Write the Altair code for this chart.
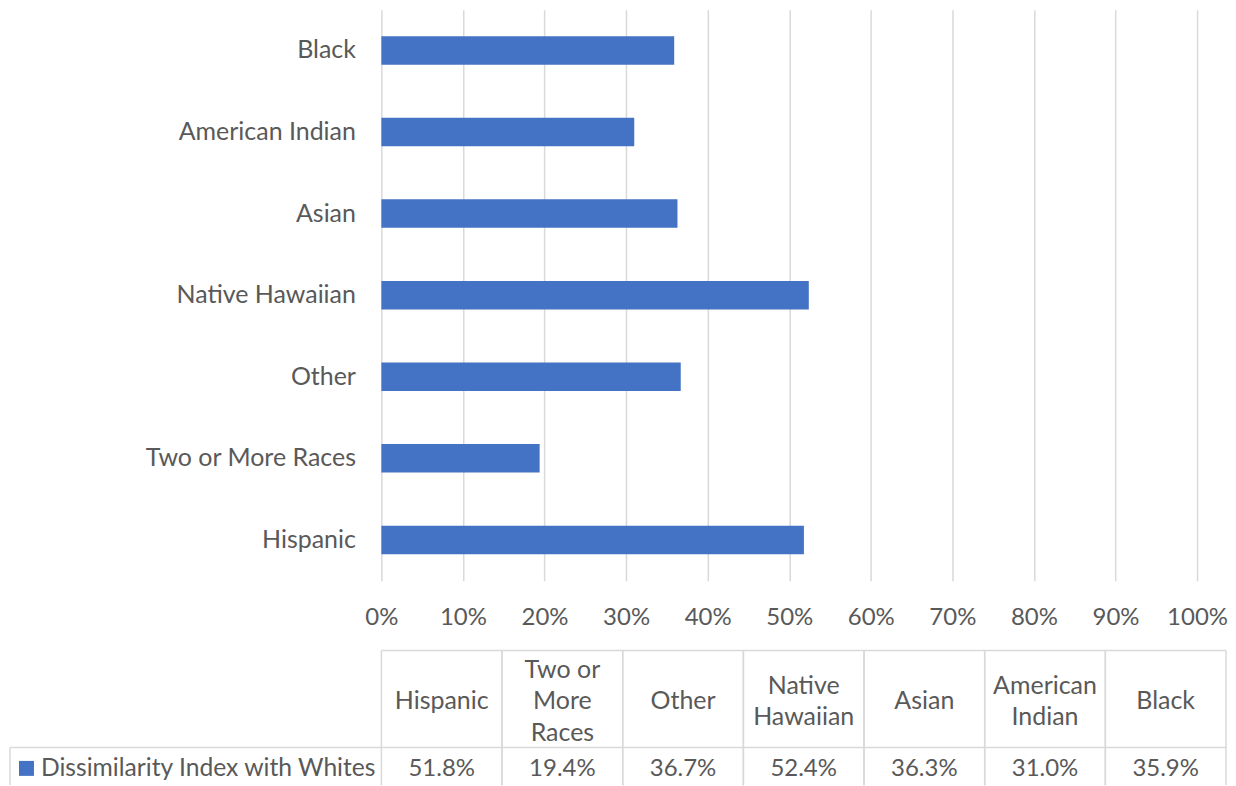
import altair as alt
import pandas as pd

categories = ["Hispanic", "Two or More Races", "Other", "Native Hawaiian",
              "Asian", "American Indian", "Black"]
header_labels = ["Hispanic", "Two or\nMore\nRaces", "Other", "Native\nHawaiian",
                 "Asian", "American\nIndian", "Black"]
values = [0.518, 0.194, 0.367, 0.524, 0.363, 0.310, 0.359]
value_labels = ["51.8%", "19.4%", "36.7%", "52.4%", "36.3%", "31.0%", "35.9%"]
series_name = "Dissimilarity Index with Whites"
x_ticks = [0, 0.1, 0.2, 0.3, 0.4, 0.5, 0.6, 0.7, 0.8, 0.9, 1.0]

FONT = "Lato"
FS = 25
FSN = 24
TXT = "#595959"
GRID = "#d9d9d9"
BLUE = "#4472C4"
W, H = 817, 572
TW = 846
LH = 32
HY = 693
BOTTOM = 777

df = pd.DataFrame({"cat": categories, "header": header_labels,
                   "value": values, "label": value_labels})

bars = alt.Chart(df).mark_bar(color=BLUE).encode(
    x=alt.X("value:Q", scale=alt.Scale(domain=[0, 1], nice=False),
            axis=alt.Axis(values=x_ticks, format=".0%", title=None, grid=True,
                          gridColor=GRID, gridWidth=1.5, domain=False, ticks=False,
                          labelFont=FONT, labelFontSize=FSN, labelColor=TXT,
                          labelPadding=25, labelOverlap=False, labelFlush=False)),
    y=alt.Y("cat:N", sort=list(reversed(categories)),
            scale=alt.Scale(paddingInner=0.65, paddingOuter=0.325),
            axis=alt.Axis(title=None, domain=False, ticks=False, grid=False,
                          labelFont=FONT, labelFontSize=FS, labelColor=TXT,
                          labelPadding=26, labelLimit=0)),
)

tscale = alt.Scale(domain=categories, range=[0, TW], paddingInner=0, paddingOuter=0)

def xt(bp=None):
    if bp is None:
        return alt.X("cat:N", sort=categories, scale=tscale, axis=None)
    return alt.X("cat:N", sort=categories, scale=tscale, axis=None, bandPosition=bp)

headers = []
for n in (1, 2, 3):
    headers.append(
        alt.Chart(df).transform_calculate(
            nl="length(split(datum.header, '\\n'))"
        ).transform_filter(f"datum.nl == {n}").mark_text(
            font=FONT, fontSize=FS, color=TXT, lineBreak="\n",
            lineHeight=LH, baseline="middle", align="center"
        ).encode(x=xt(), y=alt.value(HY - (n - 1) * LH / 2), text="header:N")
    )

vals = alt.Chart(df).mark_text(font=FONT, fontSize=FSN, color=TXT,
                               baseline="middle", align="center").encode(
    x=xt(), y=alt.value(761), text="label:N")

vl_left = alt.Chart(df).mark_rule(color=GRID, strokeWidth=1.5).encode(
    x=xt(0), y=alt.value(642), y2=alt.value(BOTTOM))
vl_right = alt.Chart(df).mark_rule(color=GRID, strokeWidth=1.5).encode(
    x=xt(1), y=alt.value(642), y2=alt.value(BOTTOM))

one = pd.DataFrame({"s": [series_name]})
h_top = alt.Chart(one).mark_rule(color=GRID, strokeWidth=1.5).encode(
    x=alt.value(0), x2=alt.value(TW), y=alt.value(642))
h_mid = alt.Chart(one).mark_rule(color=GRID, strokeWidth=1.5).encode(
    x=alt.value(-372), x2=alt.value(TW), y=alt.value(739))
v_leg = alt.Chart(one).mark_rule(color=GRID, strokeWidth=1.5).encode(
    x=alt.value(-372), y=alt.value(739), y2=alt.value(BOTTOM))
leg_sq = alt.Chart(one).mark_square(color=BLUE, opacity=1, size=225).encode(
    x=alt.value(-355.5), y=alt.value(760))
leg_txt = alt.Chart(one).mark_text(font=FONT, fontSize=24.7, color=TXT,
                                   align="left", baseline="middle").encode(
    x=alt.value(-341), y=alt.value(761), text="s:N")

chart = alt.layer(
    bars, h_top, h_mid, vl_left, vl_right, v_leg, *headers, vals, leg_sq, leg_txt
).resolve_scale(x="independent").properties(
    width=W, height=H,
    padding={"left": 1, "top": 1, "right": 0, "bottom": 0},
).configure_view(stroke=None)

chart.save("out.html", embed_options={"renderer": "svg", "actions": False})
